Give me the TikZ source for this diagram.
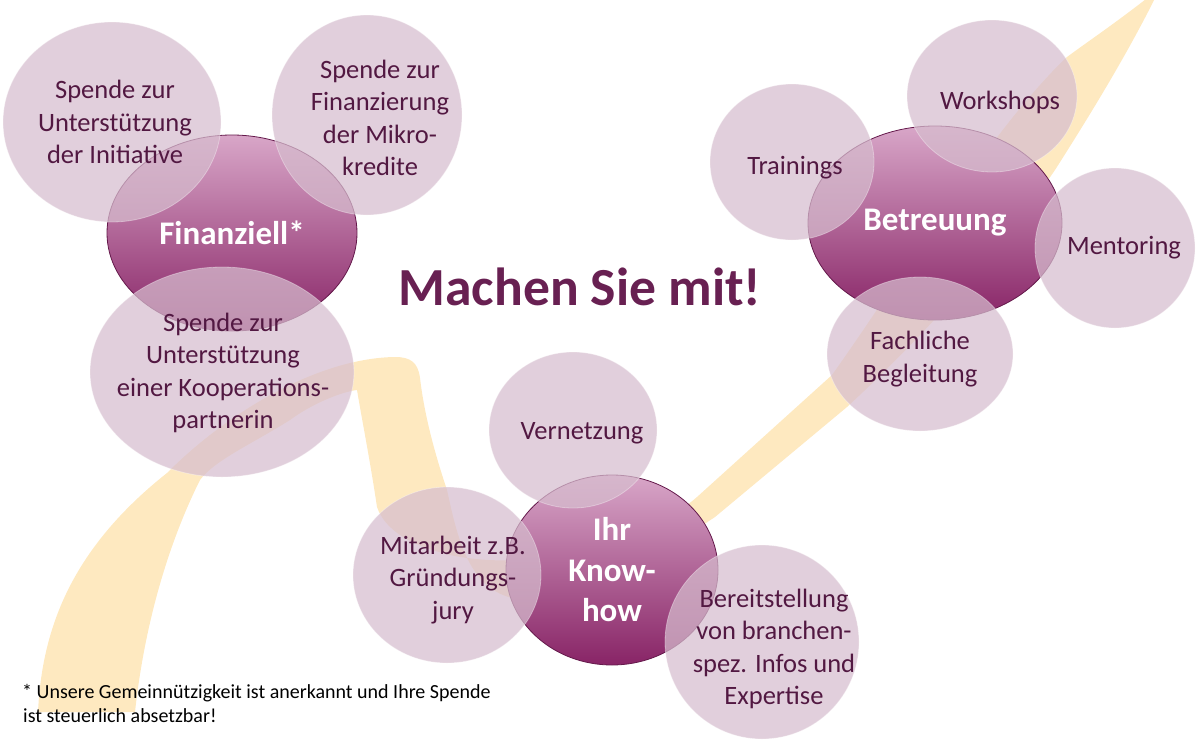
\documentclass[tikz,border=0pt]{standalone}
\usepackage{fontspec}
\setmainfont{Carlito}
\usetikzlibrary{shapes.geometric}
\definecolor{band}{RGB}{254,233,192}
\definecolor{satfill}{RGB}{214,189,206}
\definecolor{sattext}{RGB}{82,24,66}
\definecolor{titlecol}{RGB}{104,32,82}
\definecolor{ctop}{RGB}{216,166,200}
\definecolor{cbot}{RGB}{136,36,102}
\definecolor{cline}{RGB}{100,25,75}
\begin{document}
\begin{tikzpicture}[x=1pt,y=-1pt,
  hub/.style={ellipse, inner sep=0pt, draw=cline, line width=0.8pt, top color=ctop, bottom color=cbot},
  sat/.style={ellipse, inner sep=0pt, fill=satfill, fill opacity=0.72, draw=white, draw opacity=0.35, line width=0.8pt},
  sattxt/.style={align=center, text=sattext, inner sep=0pt, font=\fontsize{26.5}{32.5}\selectfont},
  hubtxt/.style={align=center, text=white, inner sep=0pt, font=\bfseries\fontsize{33}{40.5}\selectfont},
  foottxt/.style={anchor=base west, inner sep=0pt, text=black, font=\fontsize{20}{24}\selectfont}
]
\useasboundingbox (0,0) rectangle (1200,747);
\clip (0,0) rectangle (1200,747);
% yellow swoosh
\fill[band] (38,712) .. controls (42,630) and (70,550) .. (167,473)
 .. controls (230,410) and (320,358) .. (395,357)
 .. controls (410,357) and (418,362) .. (420,378)
 .. controls (425,420) and (437,460) .. (447,490)
 .. controls (458,540) and (470,600) .. (530,600)
 .. controls (600,600) and (650,560) .. (715,517)
 -- (847,407)
 .. controls (930,330) and (1000,250) .. (1055,170)
 .. controls (1090,115) and (1130,50) .. (1160,-12)
 .. controls (1120,20) and (1090,40) .. (1067,57)
 .. controls (990,130) and (900,280) .. (832,375)
 -- (697,497)
 .. controls (630,555) and (520,570) .. (450,555)
 .. controls (410,545) and (385,530) .. (377,507)
 .. controls (370,460) and (362,420) .. (357,390)
 .. controls (340,392) and (310,405) .. (290,420)
 .. controls (250,445) and (215,460) .. (200,480)
 .. controls (170,540) and (145,620) .. (135,712) -- cycle;
% hubs
\node[hub, minimum width=250pt, minimum height=196pt] (fin) at (232,233) {};
\node[hub, minimum width=254pt, minimum height=194pt] (bet) at (935,223) {};
\node[hub, minimum width=212pt, minimum height=190pt] (know) at (612,570) {};
\node[hubtxt] (fint) at (232,233) {Finanziell*};
\node[hubtxt] (bett) at (935,223) {Betreuung};
\node[hubtxt] (knowt) at (612,570) {Ihr\\Know-\\how};
% satellites
\node[sat, minimum width=218pt, minimum height=200pt] (finA) at (112,122) {};
\node[sat, minimum width=190pt, minimum height=200pt] (finB) at (367,115) {};
\node[sat, minimum width=264pt, minimum height=210pt] (finC) at (222,372) {};
\node[sat, minimum width=164pt, minimum height=156pt] (betA) at (792,162) {};
\node[sat, minimum width=170pt, minimum height=152pt] (betB) at (992,96) {};
\node[sat, minimum width=160pt, minimum height=160pt] (betC) at (1115,248) {};
\node[sat, minimum width=186pt, minimum height=154pt] (betD) at (920,354) {};
\node[sat, minimum width=168pt, minimum height=156pt] (knowA) at (573,430) {};
\node[sat, minimum width=188pt, minimum height=176pt] (knowB) at (447,575) {};
\node[sat, minimum width=194pt, minimum height=194pt] (knowC) at (762,642) {};
\node[sattxt] (finAt) at (115,122) {Spende zur\\Unterstützung\\der Initiative};
\node[sattxt] (finBt) at (380,118) {Spende zur\\Finanzierung\\der Mikro-\\kredite};
\node[sattxt] (finCt) at (223,373) {Spende zur\\Unterstützung\\einer Kooperations-\\partnerin};
\node[sattxt] (betAt) at (795,168) {Trainings};
\node[sattxt] (betBt) at (1000,102) {Workshops};
\node[sattxt] (betCt) at (1124,248) {Mentoring};
\node[sattxt] (betDt) at (920,359) {Fachliche\\Begleitung};
\node[sattxt] (knowAt) at (582,433) {Vernetzung};
\node[sattxt] (knowBt) at (453,580) {Mitarbeit z.B.\\Gründungs-\\jury};
\node[sattxt] (knowCt) at (774,649) {Bereitstellung\\von branchen-\\spez. Infos und\\Expertise};
% title
\node[anchor=base, inner sep=0pt, text=titlecol, font=\bfseries\fontsize{53.6}{60}\selectfont] (title) at (580,305) {Machen Sie mit!};
% footnote
\node[foottxt] (foot1) at (22,698) {* Unsere Gemeinnützigkeit ist anerkannt und Ihre Spende};
\node[foottxt] (foot2) at (23,722) {ist steuerlich absetzbar!};
\end{tikzpicture}
\end{document}
